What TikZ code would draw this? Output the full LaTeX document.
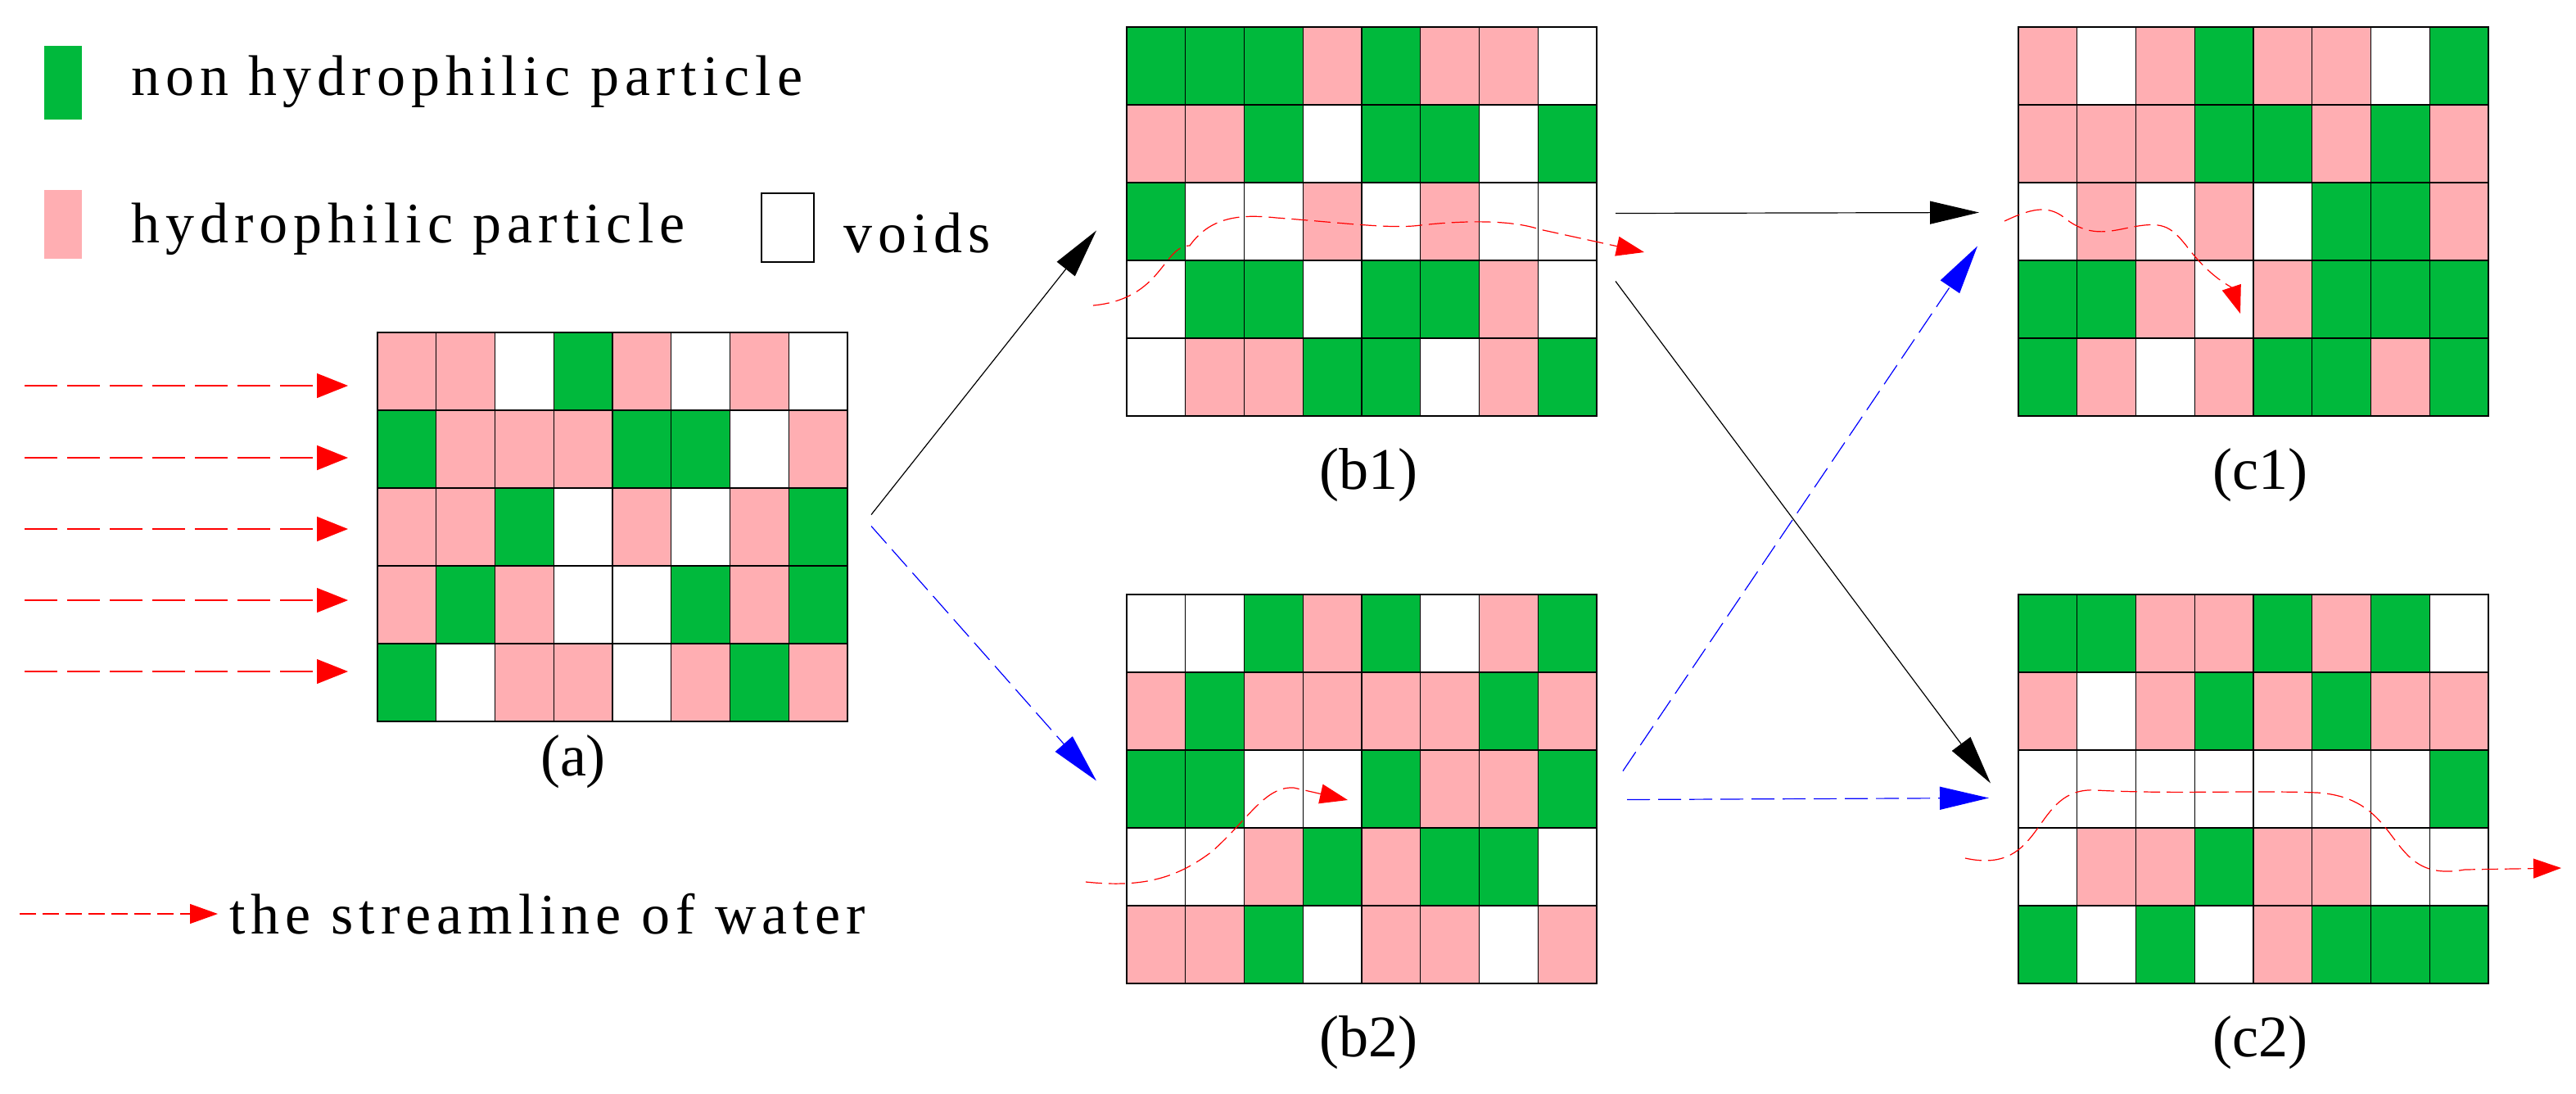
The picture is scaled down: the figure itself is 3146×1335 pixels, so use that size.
\documentclass[tikz,border=0pt]{standalone}
\usepackage{fontspec}
\setmainfont{Liberation Serif}
\usetikzlibrary{calc,positioning,arrows.meta}
\definecolor{P}{RGB}{255,174,178}
\definecolor{G}{RGB}{0,185,60}
\colorlet{W}{white}
\newfontfamily\legendfont{Liberation Serif}[LetterSpace=10]
\tikzset{
  cell/.style={draw=black,line width=0.7pt},
  gridbox/.style={minimum width=287pt,minimum height=237.5pt,inner sep=0pt,draw=black,line width=1pt},
  flow/.style={black,line width=0.6pt,-{Triangle[length=30pt,width=14pt]}},
  bflow/.style={blue,line width=0.6pt,dash pattern=on 14pt off 5pt,-{Triangle[length=30pt,width=14pt]}},
  water/.style={red,line width=0.6pt,dash pattern=on 10pt off 4pt,-{Triangle[length=17pt,width=12pt]}},
  inflow/.style={red,line width=0.6pt,dash pattern=on 20pt off 6pt,-{Triangle[length=19pt,width=15pt]}},
  lbl/.style={font=\fontsize{36}{42}\selectfont},
  leg/.style={font=\fontsize{35}{40}\legendfont,anchor=west,inner sep=0pt}
}
% one grid of 8x5 cells, top left corner at #1,#2
\newcommand{\soilgrid}[3]{%
  \foreach \row [count=\r] in {#3}{
    \foreach \c [count=\k] in \row{
      \fill[\c] ({#1+(\k-1)*71.75},{#2+(\r-1)*95}) rectangle ++(71.75,95);
      \draw[cell] ({#1+(\k-1)*71.75},{#2+(\r-1)*95}) rectangle ++(71.75,95);
    }
  }
}
\begin{document}
\begin{tikzpicture}[x=0.5pt,y=-0.5pt]
\useasboundingbox (0,0) rectangle (3146,1335);
% legend
\fill[G] (54,56) rectangle (100,146);
\node[leg] (lg) at (160,100) {non hydrophilic particle};
\fill[P] (54,232) rectangle (100,316);
\node[leg] (lp) at (160,280) {hydrophilic particle};
\draw[line width=0.7pt] (930,236) rectangle (994,320);
\node[leg] (lw) at (1030,285) {voids};
\coordinate (ls) at (24,1116);
\coordinate (le) at (266,1116);
\draw[water] (ls) -- (le);
\node[leg] (lst) at (280,1116) {the streamline of water};
% grids
\soilgrid{461}{406}{{P,P,W,G,P,W,P,W},{G,P,P,P,G,G,W,P},{P,P,G,W,P,W,P,G},{P,G,P,W,W,G,P,G},{G,W,P,P,W,P,G,P}}
\soilgrid{1376}{33}{{G,G,G,P,G,P,P,W},{P,P,G,W,G,G,W,G},{G,W,W,P,W,P,W,W},{W,G,G,W,G,G,P,W},{W,P,P,G,G,W,P,G}}
\soilgrid{2465}{33}{{P,W,P,G,P,P,W,G},{P,P,P,G,G,P,G,P},{W,P,W,P,W,G,G,P},{G,G,P,W,P,G,G,G},{G,P,W,P,G,G,P,G}}
\soilgrid{1376}{726}{{W,W,G,P,G,W,P,G},{P,G,P,P,P,P,G,P},{G,G,W,W,G,P,P,G},{W,W,P,G,P,G,G,W},{P,P,G,W,P,P,W,P}}
\soilgrid{2465}{726}{{G,G,P,P,G,P,G,W},{P,W,P,G,P,G,P,P},{W,W,W,W,W,W,W,G},{W,P,P,G,P,P,W,W},{G,W,G,W,P,G,G,G}}
\node[gridbox] (a) at (748,643.5) {};
\node[gridbox] (b1) at (1663,270.5) {};
\node[gridbox] (c1) at (2752,270.5) {};
\node[gridbox] (b2) at (1663,963.5) {};
\node[gridbox] (c2) at (2752,963.5) {};
\node[lbl] at (700,930) {(a)};
\node[lbl] at (1671,580) {(b1)};
\node[lbl] at (2760,580) {(c1)};
\node[lbl] at (1671,1273) {(b2)};
\node[lbl] at (2760,1273) {(c2)};
% incoming water
\foreach \y/\w in {471/0.6pt,559/1pt,646/1pt,733/0.6pt,820/0.6pt}
  \draw[inflow,line width=\w] (30,\y) -- (425,\y);
% transitions
\draw[flow] ($(a.east)+(28,-15)$) -- ($(b1.west)+(-36,11)$);
\draw[bflow] ($(a.east)+(28,-1)$) -- ($(b2.west)+(-36,-10)$);
\draw[flow] ($(b1.east)+(22,-10)$) -- ($(c1.west)+(-47,-11)$);
\draw[flow] ($(b1.east)+(22,73)$) -- ($(c2.west)+(-33,-7)$);
\draw[bflow] ($(b2.east)+(31,-22)$) -- ($(c1.west)+(-49,30)$);
\draw[bflow] ($(b2.east)+(36,13)$) -- ($(c2.west)+(-35,11)$);
% streamlines
\draw[water] (1335,373) .. controls (1420,365) and (1420,300) .. (1453,300)
  .. controls (1480,262) and (1520,262) .. (1559,266)
  .. controls (1640,272) and (1700,280) .. (1735,275)
  .. controls (1800,268) and (1850,270) .. (1880,280) -- (2008,308);
\draw[water] (2448,270) .. controls (2480,255) and (2500,250) .. (2520,265)
  .. controls (2550,290) and (2575,283) .. (2600,278)
  .. controls (2640,270) and (2650,275) .. (2670,300)
  .. controls (2700,340) and (2725,350) .. (2736,383);
\draw[water] (1326,1077) .. controls (1400,1085) and (1440,1070) .. (1480,1040)
  .. controls (1525,1000) and (1545,960) .. (1580,962) -- (1646,977);
\draw[water] (2400,1048) .. controls (2500,1070) and (2480,960) .. (2560,965)
  .. controls (2650,970) and (2750,965) .. (2830,968)
  .. controls (2940,975) and (2910,1080) .. (3010,1062) -- (3128,1060);
\end{tikzpicture}
\end{document}
